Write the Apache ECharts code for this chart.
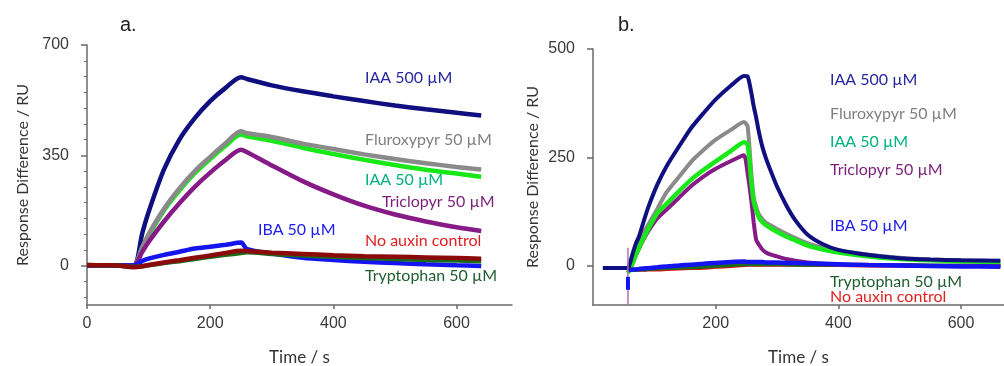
<!DOCTYPE html>
<html>
<head>
<meta charset="utf-8">
<script src="https://cdn.jsdelivr.net/npm/echarts@6/dist/echarts.min.js"></script>
<style>
  html, body { margin: 0; padding: 0; background: #fff; }
  #chart { width: 1004px; height: 366px; }
</style>
</head>
<body>
<div id="chart"></div>
<script>
// panel a: time points (s) and responses (RU)
const timeA = [0, 25, 50, 75, 90, 100, 125, 150, 175, 200, 225, 250, 260, 300, 350, 400, 450, 500, 550, 600, 640];
const iaa500A = [0, 0, 0, -2, 105, 170, 305, 400, 468, 522, 564, 598, 592, 572, 553, 537, 522, 508, 496, 485, 476];
const fluroA = [0, 0, 0, 0, 60, 100, 180, 245, 300, 345, 388, 426, 420, 408, 387, 370, 353, 338, 325, 313, 305];
const iaa50A = [0, 0, 0, 0, 58, 95, 175, 238, 293, 338, 380, 416, 410, 396, 374, 354, 336, 319, 304, 292, 282];
const tricloA = [0, 0, 0, 0, 45, 75, 140, 198, 250, 295, 335, 368, 360, 318, 268, 226, 190, 162, 140, 122, 110];
const ibaA = [0, 0, 0, 0, 15, 22, 34, 44, 54, 60, 66, 73, 52, 38, 25, 18, 12, 8, 4, 1, -1];
const controlA = [2, 1, 0, -5, -2, 2, 10, 17, 25, 32, 40, 47, 46, 41, 37, 33, 30, 28, 26, 24, 22];
const tryptoA = [2, 1, 0, -4, -2, 1, 8, 14, 21, 28, 34, 40, 42, 37, 32, 28, 24, 21, 18, 16, 14];

// panel b
const timeB = [16, 40, 57, 60, 65, 70, 75, 82, 90, 105, 120, 140, 160, 180, 200, 225, 246,
    252, 258, 262, 266, 270, 276, 282, 290, 300, 315, 330, 350, 375, 400, 450, 500, 550, 600, 664];
const iaa500B = [-5, -5, -5, 5, 30, 52, 68, 100, 135, 188, 230, 275, 318, 352, 384, 416, 438,
    437, 400, 368, 342, 312, 275, 248, 218, 183, 140, 105, 72, 50, 37, 25, 18, 15, 13, 12];
const fluroB = [null, null, -15, -5, 15, 35, 52, 75, 95, 132, 170, 205, 240, 267, 291, 314, 332,
    322, 215, 158, 136, 120, 108, 100, 93, 85, 74, 64, 52, 42, 35, 26, 19, 15, 13, 11];
const iaa50B = [null, null, -16, -8, 8, 26, 42, 63, 85, 122, 143, 172, 199, 221, 241, 265, 285,
    281, 195, 148, 128, 113, 101, 94, 87, 79, 68, 59, 47, 38, 31, 22, 16, 13, 11, 9];
const tricloB = [null, null, -16, -8, 8, 25, 40, 60, 80, 110, 130, 157, 184, 206, 224, 242, 255,
    214, 152, 100, 60, 50, 38, 31, 26, 22, 16, 12, 8, 5, 3, 2, 1, 0, 0, 0];
const ibaB = [null, null, -9, -9, -8, -8, -7, -6, -5, -3, -1, 1, 3, 5, 7, 9, 10,
    9, 9, 9, 9, 9, 9, 8, 8, 8, 7, 7, 6, 5, 4, 2, 1, 0, -1, -2];
const controlB = [null, null, -9, -9, -9, -9, -9, -9, -8, -8, -7, -6, -5, -4, -2, 0, 2,
    3, 3, 3, 3, 3, 3, 3, 3, 3, 3, 3, 2, 2, 2, 1, 1, 0, 0, 0];
const tryptoB = [null, null, -9, -9, -9, -9, -8, -8, -7, -6, -5, -4, -3, -2, 0, 2, 4,
    4, 4, 4, 4, 4, 4, 4, 4, 4, 4, 3, 3, 3, 3, 2, 2, 1, 1, 1];
// injection spikes in panel b
const spikeTricloB = [[57, 42], [57, -95]];
const spikeIbaB = [[57, -25], [57, -55]];

// tick labels
const yTicksA = [0, 350, 700];
const yMinorA = [-100, -50, 50, 100, 150, 200, 250, 300, 400, 450, 500, 550, 600, 650];
const xTicksA = [0, 200, 400, 600];
const yTicksB = [0, 250, 500];
const xTicksB = [200, 400, 600];

const pair = (ts, vs) => ts.map((t, i) => [t, vs[i]]);

const chart = echarts.init(document.getElementById('chart'));

const labelFont = '16px Lato';
const axisCol = '#6a6a6a';

function xAxisCfg(idx, max, ticks) {
    return {
        type: 'value', gridIndex: idx, min: 0, max: max,
        name: 'Time / s', nameLocation: 'middle', nameGap: 44,
        nameTextStyle: { fontFamily: 'Lato', fontSize: 17, color: '#333' },
        axisLine: { show: true, onZero: false, lineStyle: { color: axisCol, width: 1.5 } },
        axisTick: { show: true, inside: false, length: 4, customValues: ticks, lineStyle: { color: axisCol, width: 1.5 } },
        axisLabel: { customValues: ticks, margin: 11, fontFamily: 'Liberation Sans', fontSize: 16, color: '#3a3a3a' },
        splitLine: { show: false }
    };
}

function yAxisCfg(idx, min, max, ticks, gap) {
    return {
        type: 'value', gridIndex: idx, min: min, max: max,
        name: 'Response Difference / RU', nameLocation: 'middle', nameGap: gap,
        nameTextStyle: { fontFamily: 'Lato', fontSize: 16, color: '#333' },
        axisLine: { show: true, onZero: false, lineStyle: { color: axisCol, width: 1.5 } },
        axisTick: { show: true, inside: false, length: 6, customValues: ticks, lineStyle: { color: axisCol, width: 1.5 } },
        axisLabel: { customValues: ticks, margin: 18, fontFamily: 'Liberation Sans', fontSize: 16, color: '#3a3a3a' },
        splitLine: { show: false }
    };
}

function line(name, xi, data, color, width, smooth) {
    return {
        name: name, type: 'line', xAxisIndex: xi, yAxisIndex: xi === 0 ? 0 : 2,
        data: data, showSymbol: false, symbol: 'none',
        smooth: smooth === undefined ? 0.3 : smooth, clip: true,
        lineStyle: { color: color, width: width || 4 }, itemStyle: { color: color },
        animation: false, z: 2
    };
}

function txt(x, y, text, color, font) {
    return {
        type: 'text', x: x, y: y,
        style: { text: text, fill: color, font: font || labelFont, textVerticalAlign: 'middle' }
    };
}

chart.setOption({
    animation: false,
    grid: [
        { left: 87, top: 45, width: 425, height: 260, outerBoundsMode: 'none', containLabel: false },
        { left: 593, top: 49, width: 411, height: 256, outerBoundsMode: 'none', containLabel: false }
    ],
    xAxis: [
        xAxisCfg(0, 690, xTicksA),
        xAxisCfg(1, 670, xTicksB)
    ],
    yAxis: [
        yAxisCfg(0, -125, 700, yTicksA, 56),
        {
            type: 'value', gridIndex: 0, min: -125, max: 700,
            axisLine: { show: false },
            axisTick: { show: true, inside: true, length: 3, customValues: yMinorA, lineStyle: { color: axisCol, width: 1 } },
            axisLabel: { show: false },
            splitLine: { show: false }
        },
        yAxisCfg(1, -90, 500, yTicksB, 52)
    ],
    series: [
        line('IAA 500 µM', 0, pair(timeA, iaa500A), '#0f0f80', 4.5),
        line('IAA 50 µM', 0, pair(timeA, iaa50A), '#18e818', 4.5),
        line('Fluroxypyr 50 µM', 0, pair(timeA, fluroA), '#8a8a8a', 4.5),
        line('Triclopyr 50 µM', 0, pair(timeA, tricloA), '#861a86', 4.5),
        line('IBA 50 µM', 0, pair(timeA, ibaA), '#1414f0', 4.5),
        line('Tryptophan 50 µM', 0, pair(timeA, tryptoA), '#1a6b1a', 4.5),
        line('No auxin control', 0, pair(timeA, controlA), '#8b0a0a', 4.5),

        line('No auxin control', 1, pair(timeB, controlB), '#e01010', 4, 0.2),
        line('Tryptophan 50 µM', 1, pair(timeB, tryptoB), '#1a6b1a', 4, 0.2),
        line('Triclopyr 50 µM', 1, pair(timeB, tricloB), '#861a86', 4, 0.2),
        line('Fluroxypyr 50 µM', 1, pair(timeB, fluroB), '#8a8a8a', 4, 0.2),
        line('IAA 50 µM', 1, pair(timeB, iaa50B), '#18e818', 4.5, 0.2),
        line('IBA 50 µM', 1, pair(timeB, ibaB), '#1414f0', 4.5, 0.2),
        line('IAA 500 µM', 1, pair(timeB, iaa500B), '#0f0f80', 4, 0.2),
        line('spike', 1, spikeTricloB, '#b070b0', 1.5, false),
        line('spike', 1, spikeIbaB, '#1414f0', 4, false)
    ],
    graphic: [
        txt(120, 25, 'a.', '#222', '20px "Liberation Sans"'),
        txt(365, 78, 'IAA 500 µM', '#27279e'),
        txt(365, 140, 'Fluroxypyr 50 µM', '#808080'),
        txt(365, 180, 'IAA 50 µM', '#00b37a'),
        txt(382, 202, 'Triclopyr 50 µM', '#7a1f7a'),
        txt(258, 230, 'IBA 50 µM', '#2020ee'),
        txt(365, 241, 'No auxin control', '#e02020'),
        txt(365, 276, 'Tryptophan 50 µM', '#1f5f2f'),

        txt(618, 25, 'b.', '#222', '20px "Liberation Sans"'),
        txt(830, 80, 'IAA 500 µM', '#27279e'),
        txt(830, 114, 'Fluroxypyr 50 µM', '#808080'),
        txt(830, 142, 'IAA 50 µM', '#00b37a'),
        txt(830, 170, 'Triclopyr 50 µM', '#7a1f7a'),
        txt(830, 226, 'IBA 50 µM', '#2020ee'),
        txt(830, 282, 'Tryptophan 50 µM', '#1f5f2f'),
        txt(830, 297, 'No auxin control', '#e02020')
    ]
});

window.addEventListener('resize', () => {
    chart.resize();
});
</script>
</body>
</html>
